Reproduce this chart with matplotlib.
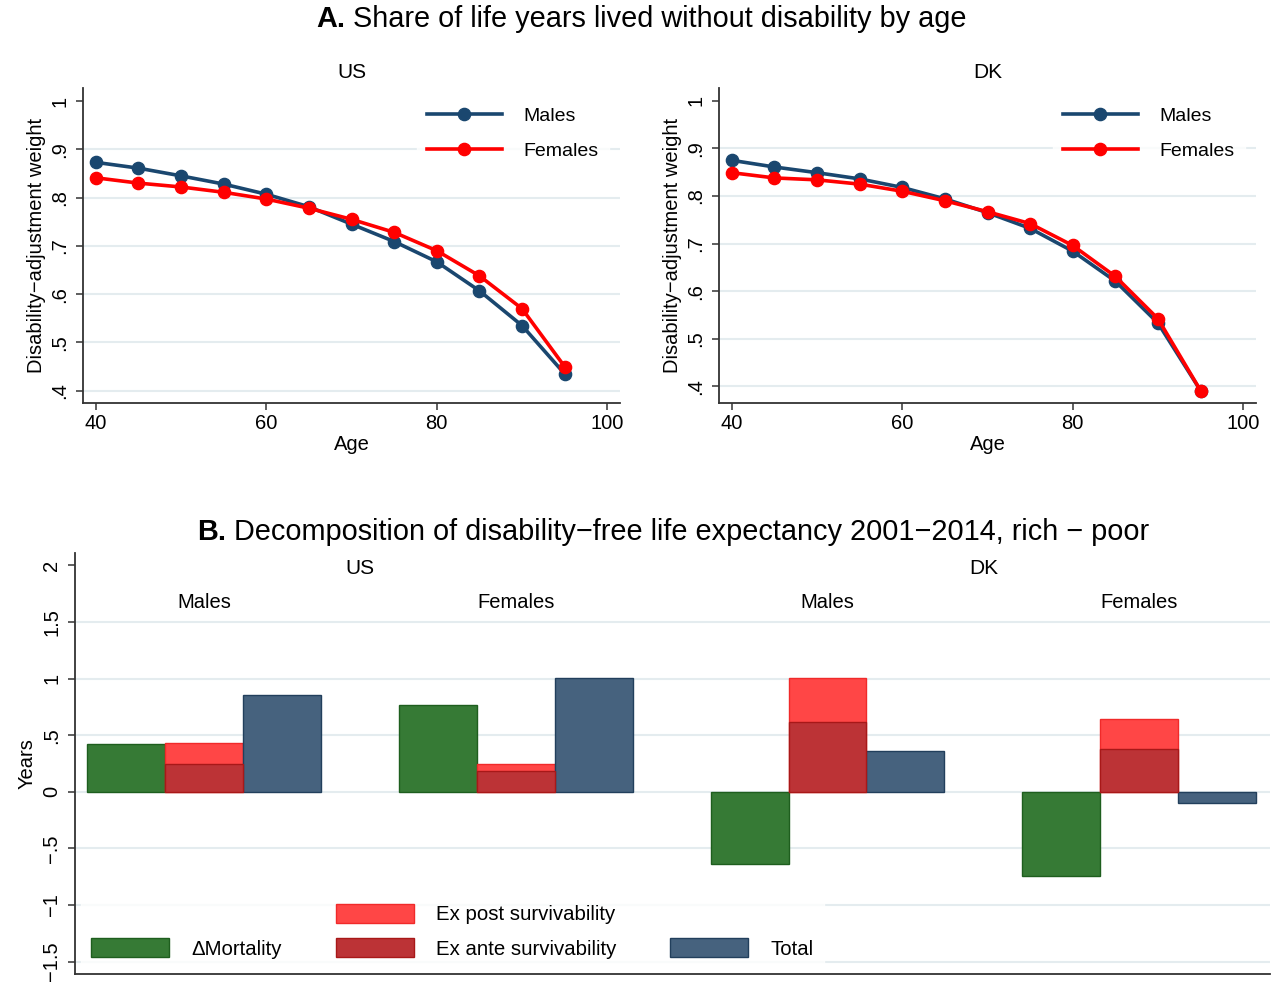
import matplotlib
matplotlib.use("Agg")
import matplotlib.pyplot as plt
from matplotlib.patches import Rectangle

plt.rcParams['font.family'] = ['Liberation Sans', 'DejaVu Sans']

# Panel A data: disability-adjustment weight by age
ages = [40, 45, 50, 55, 60, 65, 70, 75, 80, 85, 90, 95]
us_males = [0.873, 0.861, 0.845, 0.828, 0.807, 0.781, 0.745, 0.709, 0.667, 0.607, 0.535, 0.435]
us_females = [0.841, 0.830, 0.822, 0.811, 0.797, 0.778, 0.755, 0.728, 0.690, 0.638, 0.570, 0.450]
dk_males = [0.875, 0.861, 0.849, 0.836, 0.818, 0.794, 0.765, 0.732, 0.684, 0.621, 0.533, 0.391]
dk_females = [0.849, 0.838, 0.834, 0.825, 0.810, 0.790, 0.767, 0.742, 0.696, 0.631, 0.542, 0.391]

# Panel B data: decomposition, rich - poor (years)
countries = ["US", "DK"]
sexes = ["Males", "Females"]
mortality = [0.425, 0.767, -0.640, -0.743]
ex_post = [0.430, 0.245, 1.003, 0.643]
ex_ante = [0.242, 0.186, 0.620, 0.375]
total = [0.856, 1.009, 0.363, -0.103]

NAVY = "#1a476f"
RED = "#ff0000"
GRID = "#e4ecef"
FS = 14.5

W, H = 1273, 984
fig = plt.figure(figsize=(W / 100, H / 100), dpi=100)


def px_axes(l, t, r, b):
    return fig.add_axes([l / W, 1 - b / H, (r - l) / W, (b - t) / H])


def style_axes(ax):
    for s in ["top", "right"]:
        ax.spines[s].set_visible(False)
    for s in ["left", "bottom"]:
        ax.spines[s].set_color("#333333")
        ax.spines[s].set_linewidth(1.3)
    ax.tick_params(direction="out", length=5, width=1.1, labelsize=FS, color="#333333")
    ax.yaxis.grid(True, color=GRID, linewidth=1.5)
    ax.set_axisbelow(True)


def line_panel(ax, males, females, title, ybottom):
    style_axes(ax)
    ax.plot(ages, males, color=NAVY, lw=2.6, marker="o", ms=8.8, label="Males", zorder=3)
    ax.plot(ages, females, color=RED, lw=2.6, marker="o", ms=8.8, label="Females", zorder=4)
    ax.set_xlim(38.5, 101.5)
    ax.set_ylim(ybottom, 1.027)
    ax.set_xticks([40, 60, 80, 100])
    ax.set_yticks([0.4, 0.5, 0.6, 0.7, 0.8, 0.9, 1.0])
    ax.set_yticklabels([".4", ".5", ".6", ".7", ".8", ".9", "1"], rotation=90, va="center")
    ax.get_ygridlines()[-1].set_visible(False)
    ax.tick_params(axis="y", pad=5)
    ax.tick_params(axis="x", pad=3)
    ax.set_xlabel("Age", fontsize=FS, labelpad=1)
    ax.set_ylabel("Disability\u2212adjustment weight", fontsize=FS, labelpad=3)
    ax.set_title(title, fontsize=15, pad=7)
    leg = ax.legend(loc="upper left", bbox_to_anchor=(0.622, 0.969), fontsize=14,
                    handlelength=3.86, handletextpad=1.13, labelspacing=0.9,
                    borderaxespad=0, frameon=True, fancybox=False, borderpad=0.5)
    leg.get_frame().set_facecolor("white")
    leg.get_frame().set_edgecolor("white")


ax1 = px_axes(83, 88, 620, 403)
line_panel(ax1, us_males, us_females, "US", 0.3745)
ax2 = px_axes(719, 88, 1256, 403)
line_panel(ax2, dk_males, dk_females, "DK", 0.365)

# Panel titles
ta = fig.text(316 / W, 1 - 19 / H, "A.", fontsize=20.8, fontweight="bold", va="center", ha="left")
ax1.annotate(" Share of life years lived without disability by age", xy=(1, 0), xycoords=ta,
             fontsize=20.8, va="bottom", ha="left", annotation_clip=False)
tb = fig.text(197 / W, 1 - 532 / H, "B.", fontsize=20.8, fontweight="bold", va="center", ha="left")
ax1.annotate(" Decomposition of disability\u2212free life expectancy 2001\u22122014, rich \u2212 poor",
             xy=(1, 0), xycoords=tb, fontsize=20.8, va="bottom", ha="left", annotation_clip=False)

# Panel B bars
ax3 = px_axes(75, 553, 1270, 974)
style_axes(ax3)
ax3.tick_params(axis="x", bottom=False, labelbottom=False)
groups = range(len(mortality))
pos_m = [4 * g + 0.5 for g in groups]
pos_s = [4 * g + 1.5 for g in groups]
pos_t = [4 * g + 2.5 for g in groups]
b_m = ax3.bar(pos_m, mortality, width=1, color="#367a35", edgecolor="#1e5e1e", lw=1, zorder=3)
b_p = ax3.bar(pos_s, ex_post, width=1, color="#ff4646", edgecolor="#f02a2a", lw=1, zorder=3)
b_a = ax3.bar(pos_s, ex_ante, width=1, color="#bc3336", edgecolor="#a81818", lw=1, zorder=4)
b_t = ax3.bar(pos_t, total, width=1, color="#46627e", edgecolor="#223f5c", lw=1, zorder=3)
ax3.set_xlim(-0.16, 15.18)
ax3.set_ylim(-1.61, 2.11)
ax3.set_yticks([-1.5, -1, -0.5, 0, 0.5, 1, 1.5, 2])
ax3.set_yticklabels(["\u22121.5", "\u22121", "\u2212.5", "0", ".5", "1", "1.5", "2"], rotation=90, va="center")
ax3.get_ygridlines()[-1].set_visible(False)
ax3.tick_params(axis="y", pad=5)
ax3.set_ylabel("Years", fontsize=FS, labelpad=4)

for i, c in enumerate(countries):
    ax3.text(8 * i + 3.5, 1.975, c, fontsize=15, ha="center", va="center")
    for j, s in enumerate(sexes):
        ax3.text(8 * i + 4 * j + 1.5, 1.675, s, fontsize=FS, ha="center", va="center")

blank = Rectangle((0, 0), 1, 1, visible=False)
handles = [blank, b_m.patches[0], b_p.patches[0], b_a.patches[0], blank, b_t.patches[0]]
labels = ["", "\u0394Mortality", "Ex post survivability", "Ex ante survivability", "", "Total"]
leg3 = ax3.legend(handles, labels, ncol=3, loc="lower left", bbox_to_anchor=(0.005, 0.012),
                  fontsize=14.7, handlelength=3.82, handleheight=1.03, handletextpad=1.08,
                  columnspacing=2.65, labelspacing=0.69, borderaxespad=0,
                  frameon=True, fancybox=False, borderpad=0.5)
leg3.get_frame().set_facecolor("white")
leg3.get_frame().set_edgecolor("white")

fig.savefig("out.png", dpi=100, facecolor="white")
